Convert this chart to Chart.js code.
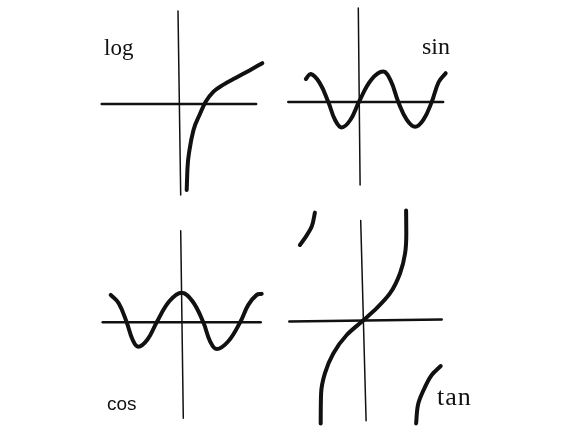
<!DOCTYPE html>
<html>
<head>
<meta charset="utf-8">
<script src="https://cdn.jsdelivr.net/npm/chart.js@4.4.0/dist/chart.umd.min.js"></script>
<style>
 html,body{margin:0;padding:0;background:#fff;}
 #wrap{position:relative;width:569px;height:434px;overflow:hidden;}
 canvas{position:absolute;}
 .lbl{position:absolute;line-height:1;color:#111;white-space:nowrap;}
 .serif{font-family:"Liberation Serif","DejaVu Serif",serif;}
 .sans{font-family:"Liberation Sans",Arial,sans-serif;}
</style>
</head>
<body>
<div id="wrap">
 <canvas id="logChart"></canvas>
 <canvas id="sinChart"></canvas>
 <canvas id="cosChart"></canvas>
 <canvas id="tanChart"></canvas>
 <span class="lbl serif" style="left:104px;top:36px;font-size:23px;">log</span>
 <span class="lbl serif" style="left:422px;top:34px;font-size:24px;">sin</span>
 <span class="lbl sans" style="left:107px;top:394px;font-size:19px;">cos</span>
 <span class="lbl serif" style="left:437px;top:384px;font-size:26px;letter-spacing:1px;">tan</span>
</div>
<script>
// values, 1 unit ~ 20px, origin where the axes cross
const logX = [0.36,0.4,0.5,0.7,1.0,1.3,1.7,2.2,2.8,3.5,4.14];
const logY = [-4.3,-3.2,-2.3,-1.3,-0.55,0.1,0.62,0.97,1.3,1.68,2.04];
const logAxisHX = [-3.89,3.83], logAxisHY = [0,0];
const logAxisVX = [-0.075,0.06], logAxisVY = [4.65,-4.55];

const sinX = [-2.68,-2.44,-2.0,-1.56,-1.22,-0.89,-0.46,-0.03,0.58,1.19,1.56,1.94,2.36,2.78,3.2,3.61,3.96,4.31];
const sinY = [1.15,1.4,0.97,0,-0.9,-1.27,-0.9,0,1.1,1.52,1.07,0,-0.88,-1.24,-0.88,0,1.0,1.44];
const sinAxisHX = [-3.56,4.18], sinAxisHY = [0,0];
const sinAxisVX = [-0.06,0.03], sinAxisVY = [4.7,-4.15];

const cosX = [-3.55,-3.15,-2.75,-2.46,-2.17,-1.71,-1.25,-0.62,0,0.54,1.08,1.42,1.75,2.33,2.92,3.33,3.75,4.0];
const cosY = [1.37,0.95,0,-0.86,-1.22,-0.86,0,1.05,1.48,1.05,0,-0.95,-1.34,-0.95,0,0.87,1.37,1.42];
const cosAxisHX = [-3.95,3.95], cosAxisHY = [0,0];
const cosAxisVX = [-0.05,0.08], cosAxisVY = [4.58,-4.8];

// tan is read bottom to top (the curves run along y)
const tanX = [-2.09,-2.07,-1.88,-1.46,-0.79,0,0.71,1.38,1.88,2.13,2.19,2.18];
const tanY = [-5.12,-3.62,-2.62,-1.62,-0.7,0,0.64,1.39,2.39,3.39,4.39,5.52];
const tanLeftX = [-3.13,-2.83,-2.54,-2.38];
const tanLeftY = [3.8,4.22,4.72,5.42];
const tanRightX = [2.68,2.79,3.13,3.46,3.91];
const tanRightY = [-5.12,-4.12,-3.29,-2.7,-2.25];
const tanAxisHX = [-3.66,3.96], tanAxisHY = [-0.03,0.08];
const tanAxisVX = [0.18,-0.09], tanAxisVY = [-4.99,5.02];

const ink = '#111';
const pts = (xs,ys) => xs.map((x,i) => ({x, y: ys[i]}));
const axis = (xs,ys,w) => ({data: pts(xs,ys), borderColor: ink, borderWidth: w, tension: 0, pointRadius: 0, borderCapStyle: 'round'});
const curve = (xs,ys,mode) => ({data: pts(xs,ys), borderColor: ink, borderWidth: 4, tension: 0.4, cubicInterpolationMode: mode || 'default', pointRadius: 0, borderCapStyle: 'round', borderJoinStyle: 'round'});

function panel(id, box, origin, unit, datasets, indexAxis){
  const c = document.getElementById(id);
  c.width = box.w; c.height = box.h;
  c.style.left = box.left+'px'; c.style.top = box.top+'px';
  c.style.width = box.w+'px'; c.style.height = box.h+'px';
  new Chart(c, {
    type: 'line',
    data: {datasets},
    options: {
      indexAxis: indexAxis || 'x',
      responsive: false, animation: false, events: [],
      layout: {padding: 0},
      plugins: {legend: {display: false}, tooltip: {enabled: false}},
      scales: {
        x: {type: 'linear', axis: 'x', display: false, min: (box.left-origin.x)/unit, max: (box.left+box.w-origin.x)/unit},
        y: {type: 'linear', axis: 'y', display: false, min: (origin.y-box.top-box.h)/unit, max: (origin.y-box.top)/unit}
      }
    }
  });
}

panel('logChart', {left:90, top:0, w:190, h:215}, {x:179.5, y:104}, 20, [
  axis(logAxisHX, logAxisHY, 2.5), axis(logAxisVX, logAxisVY, 1.5), curve(logX, logY, 'monotone')
]);
panel('sinChart', {left:280, top:0, w:190, h:215}, {x:359.5, y:102}, 20, [
  axis(sinAxisHX, sinAxisHY, 2.5), axis(sinAxisVX, sinAxisVY, 1.5), curve(sinX, sinY)
]);
panel('cosChart', {left:90, top:215, w:190, h:219}, {x:181.7, y:322.3}, 20, [
  axis(cosAxisHX, cosAxisHY, 2.5), axis(cosAxisVX, cosAxisVY, 1.5), curve(cosX, cosY)
]);
panel('tanChart', {left:280, top:200, w:190, h:234}, {x:362.5, y:321}, 20, [
  axis(tanAxisHX, tanAxisHY, 2.5), axis(tanAxisVX, tanAxisVY, 1.5),
  curve(tanX, tanY, 'monotone'), curve(tanLeftX, tanLeftY, 'monotone'), curve(tanRightX, tanRightY, 'monotone')
], 'y');
</script>
</body>
</html>
